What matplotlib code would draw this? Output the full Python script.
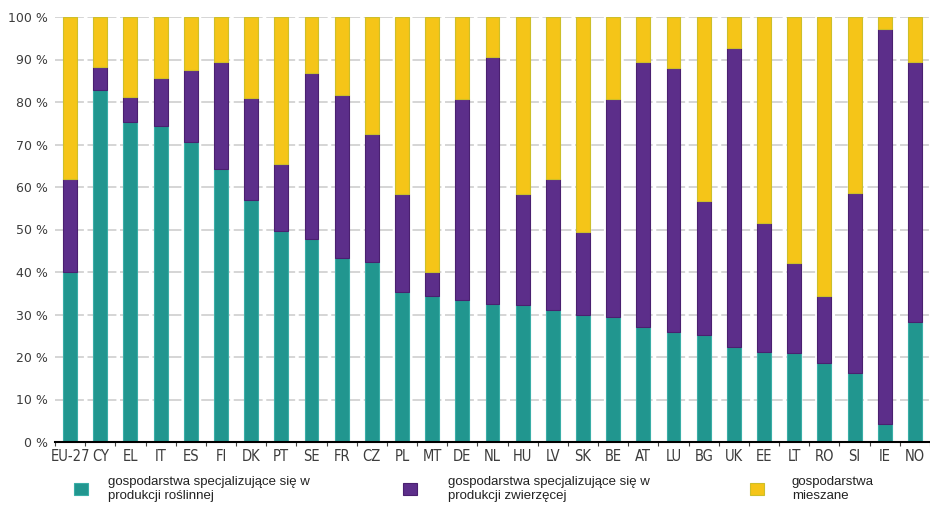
import matplotlib
matplotlib.use("Agg")
import matplotlib.pyplot as plt
from matplotlib.patches import Rectangle
from matplotlib import font_manager
import numpy as np

countries = ["EU-27", "CY", "EL", "IT", "ES", "FI", "DK", "PT", "SE", "FR", "CZ", "PL", "MT", "DE",
             "NL", "HU", "LV", "SK", "BE", "AT", "LU", "BG", "UK", "EE", "LT", "RO", "SI", "IE", "NO"]
crop = [40.0, 82.9, 75.4, 74.4, 70.7, 64.3, 57.0, 49.7, 47.7, 43.4, 42.3, 35.4, 34.3, 33.3,
        32.4, 32.2, 31.0, 30.0, 29.3, 27.0, 26.0, 25.1, 22.3, 21.1, 20.9, 18.5, 16.2, 4.2, 28.2]
livestock_top = [61.8, 88.3, 81.2, 85.7, 87.6, 89.4, 81.0, 65.3, 86.9, 81.7, 72.5, 58.3, 40.1, 80.8,
                 90.6, 58.3, 61.8, 49.3, 80.6, 89.5, 87.9, 56.8, 92.7, 51.6, 42.1, 34.3, 58.7, 97.2, 89.3]
livestock = [t - c for t, c in zip(livestock_top, crop)]
mixed = [100 - t for t in livestock_top]
yticks = [0, 10, 20, 30, 40, 50, 60, 70, 80, 90, 100]
legend_labels = ["gospodarstwa specjalizujące się w\nprodukcji roślinnej",
                 "gospodarstwa specjalizujące się w\nprodukcji zwierzęcej",
                 "gospodarstwa\nmieszane"]

teal, purple, yellow = "#21968f", "#5c2e8a", "#f5c518"
edges = ["#3aaea7", "#4a2070", "#cdbf2a"]

# pick a condensed font for the x labels if one is installed
fl = font_manager.fontManager.ttflist
names = {f.name for f in fl}
if "Liberation Sans Narrow" in names:
    xfont = dict(family=["Liberation Sans Narrow"], fontsize=11)
elif any(f.name == "DejaVu Sans" and "ondensed" in str(f.stretch) for f in fl) or \
        any("DejaVu Sans Condensed" in f.fname or "DejaVuSansCondensed" in f.fname for f in fl):
    xfont = dict(family=["DejaVu Sans"], fontstretch="condensed", fontsize=10.5)
else:
    xfont = dict(family=["Liberation Sans"], fontsize=10)

W, H = 930, 505
fig = plt.figure(figsize=(W / 100, H / 100), dpi=100)
ax = fig.add_axes([55 / W, 63 / H, 875 / W, 425 / H])

x = np.arange(len(countries))
bw = 0.46
ax.bar(x, crop, bw, color=teal, edgecolor=edges[0], linewidth=0.8, zorder=3)
ax.bar(x, livestock, bw, bottom=crop, color=purple, edgecolor=edges[1], linewidth=0.8, zorder=3)
ax.bar(x, mixed, bw, bottom=livestock_top, color=yellow, edgecolor=edges[2], linewidth=0.8, zorder=3)

ax.set_xlim(-0.5, len(countries) - 0.5)
ax.set_ylim(0, 100)
for s in ["left", "top", "right"]:
    ax.spines[s].set_visible(False)
ax.spines["bottom"].set_linewidth(1.5)
ax.spines["bottom"].set_zorder(4)

ax.set_yticks(yticks)
ax.set_yticklabels([f"{v} %" for v in yticks], fontsize=9, color="#3c3c3c",
                   family=["DejaVu Sans"])
ax.tick_params(axis="y", length=0, pad=5)
for yv in yticks[1:]:
    ax.axhline(yv, color="#d2d2d2", lw=1.3, ls=(0, (7, 2)), zorder=1)

ax.set_xticks(x)
ax.set_xticklabels(countries, color="#3c3c3c", **xfont)
ax.set_xticks(np.arange(-0.5, len(countries), 1.0), minor=True)
ax.tick_params(axis="x", which="major", length=0, pad=5)
ax.tick_params(axis="x", which="minor", length=3, width=0.8, color="#444444", direction="out")

# legend
leg_items = [(74, 108, teal, edges[0]), (403, 448, purple, edges[1]), (750, 792, yellow, edges[2])]
for (sx, tx, col, ec), lab in zip(leg_items, legend_labels):
    fig.patches.append(Rectangle((sx / W, 1 - 495 / H), 14 / W, 12 / H,
                                 facecolor=col, edgecolor=ec, lw=0.8,
                                 transform=fig.transFigure, figure=fig))
    fig.text(tx / W, 1 - 489 / H, lab, fontsize=9.5, color="#222222", va="center", ha="left",
             family=["Liberation Sans", "DejaVu Sans"], linespacing=1.15)

fig.savefig("out.png", dpi=100)
